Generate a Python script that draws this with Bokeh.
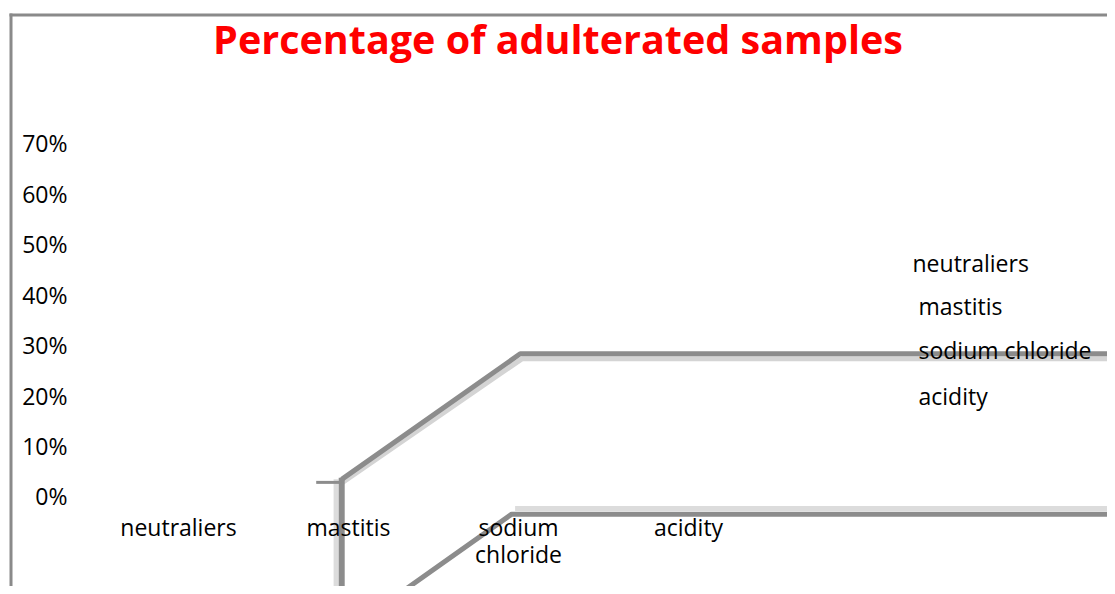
from bokeh.plotting import figure
from bokeh.models import Range1d
from bokeh.core.properties import value
from bokeh.embed import file_html
from bokeh.resources import INLINE

# ---- data ----
title_text = "Percentage of adulterated samples"
categories = ["neutraliers", "mastitis", "sodium\nchloride", "acidity"]
legend_labels = ["neutraliers", "mastitis", "sodium chloride", "acidity"]
y_ticks = [0, 10, 20, 30, 40, 50, 60, 70]
y_tick_labels = ["0%", "10%", "20%", "30%", "40%", "50%", "60%", "70%"]

# frame of the (mis-rendered) 3-D chart, in chart units (x: category index, y: percent)
wall_top_x = [0.96, 2.01, 5.7]
wall_top_y = [3.6, 28.5, 28.5]
floor_x = [1.29, 1.96, 5.7]
floor_y = [-19.3, -3.3, -3.3]

W, H = 1107, 586
PX = 170.0       # px per category
PY = 5.043       # px per percent
X0 = 178.0       # canvas x of category 0
Y0 = 497.0       # canvas y (from top) of 0%

p = figure(width=W, height=H, output_backend="svg", toolbar_location=None,
           x_axis_location=None, y_axis_location=None,
           x_range=Range1d(-X0 / PX, (W - X0) / PX),
           y_range=Range1d(-(H - Y0) / PY, Y0 / PY),
           min_border=0, tools="")
p.grid.visible = False
p.outline_line_color = None
p.background_fill_color = "white"
p.border_fill_color = "white"

def cx(px):  # picture px -> chart x
    return (px - X0) / PX

def cy(py):  # picture px -> chart y
    return (Y0 - py) / PY

# outer border (left + top)
p.line([cx(10.5), cx(10.5)], [cy(13), cy(600)], line_color="#8a8a8a", line_width=3)
p.line([cx(9), cx(1120)], [cy(14.5), cy(14.5)], line_color="#8a8a8a", line_width=3)

# upper wall: light underlay + dark line
p.line([wall_top_x[0] + 0.005, wall_top_x[1] + 0.01, wall_top_x[2]],
       [wall_top_y[0] - 0.6, wall_top_y[1] - 1.0, wall_top_y[2] - 1.0],
       line_color="#d4d4d4", line_width=5)
p.line(wall_top_x, wall_top_y, line_color="#8c8c8c", line_width=5)
# vertical post
p.line([wall_top_x[0] - 0.033, wall_top_x[0] - 0.033], [wall_top_y[0], -25],
       line_color="#dcdcdc", line_width=5)
p.line([wall_top_x[0], wall_top_x[0]], [wall_top_y[0] + 0.3, -25],
       line_color="#8c8c8c", line_width=6)
p.line([wall_top_x[0] - 0.15, wall_top_x[0]], [3.0, 3.0],
       line_color="#8c8c8c", line_width=3)

# floor line
p.line([floor_x[1] + 0.02, floor_x[2]], [floor_y[1] + 1.1, floor_y[2] + 1.1],
       line_color="#dcdcdc", line_width=5)
p.line(floor_x, floor_y, line_color="#8c8c8c", line_width=5)

FONT = value("Open Sans")
FS = "23px"

# y tick labels
p.text(x=[cx(67)] * len(y_ticks), y=[v + 0.2 for v in y_ticks], text=y_tick_labels,
       text_font=FONT, text_font_size=FS, text_color="black",
       text_align="right", text_baseline="middle")

# category labels
p.text(x=list(range(len(categories))), y=[cy(510)] * len(categories), text=categories,
       text_font=FONT, text_font_size=FS, text_color="black",
       text_align="center", text_baseline="top", text_line_height=0.87)

# legend texts
leg_x = [cx(912), cx(918), cx(918), cx(918)]
leg_y = [cy(262), cy(305), cy(349), cy(395)]
p.text(x=leg_x, y=leg_y, text=legend_labels,
       text_font=FONT, text_font_size=FS, text_color="black",
       text_align="left", text_baseline="middle")

# title
p.text(x=[cx(557.5)], y=[cy(38)], text=[title_text],
       text_font=FONT, text_font_size="39.5px", text_font_style="bold",
       text_color="#ff0000", text_align="center", text_baseline="alphabetic")

open("out.html", "w").write(file_html(p, INLINE))
